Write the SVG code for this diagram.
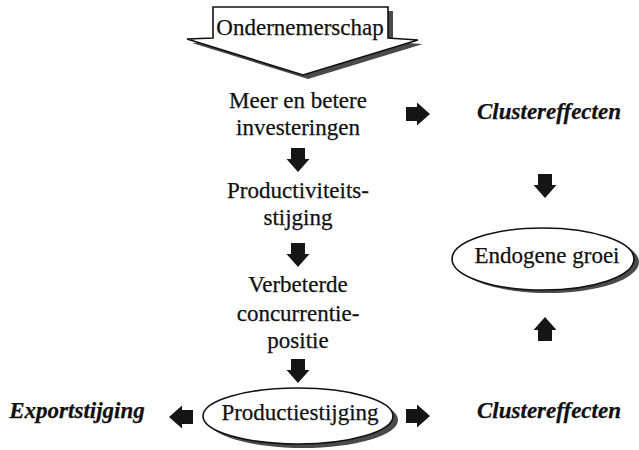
<svg xmlns="http://www.w3.org/2000/svg" width="639" height="450" viewBox="0 0 639 450">
  <style>
    .t { font-family: "Liberation Serif", "Times New Roman", serif; font-size: 23px; fill: #111; stroke: #111; stroke-width: 0.25; text-anchor: middle; }
    .bi { font-weight: bold; font-style: italic; }
    .outline { fill: #fff; stroke: #111; stroke-width: 1.6; }
    .shadow { fill: #4a4a4a; }
    .arrow { fill: #151515; }
  </style>
  <defs>
    <!-- block arrow pointing right, centred on the origin -->
    <path id="blk" d="M-12,-7 H-1 V-11.5 L12,0 L-1,11.5 V7 H-12 Z"/>
  </defs>
  <rect width="639" height="450" fill="#fff"/>

  <!-- banner with downward point -->
  <g id="ondernemerschap">
    <polygon class="shadow" points="218,11 393,11 393,42 423,44 308,79 192,43 218,42"/>
    <polygon class="outline" points="213,7 388,7 388,38 418,40 303,75 187,39 213,38"/>
    <text class="t" x="300" y="35">Ondernemerschap</text>
  </g>

  <g id="investeringen">
    <text class="t" x="298" y="108">Meer en betere</text>
    <text class="t" x="298" y="135">investeringen</text>
  </g>

  <g id="clustereffecten-top">
    <text class="t bi" x="549" y="119">Clustereffecten</text>
  </g>

  <g id="productiviteit">
    <text class="t" x="298" y="198">Productiviteits-</text>
    <text class="t" x="298" y="225">stijging</text>
  </g>

  <g id="concurrentie">
    <text class="t" x="298" y="292">Verbeterde</text>
    <text class="t" x="298" y="321">concurrentie-</text>
    <text class="t" x="298" y="348">positie</text>
  </g>

  <g id="endogene-groei">
    <ellipse class="shadow" cx="548" cy="262" rx="91" ry="31"/>
    <ellipse class="outline" cx="543" cy="259" rx="91" ry="31"/>
    <text class="t" x="547" y="263">Endogene groei</text>
  </g>

  <g id="productiestijging">
    <ellipse class="shadow" cx="303" cy="420" rx="95" ry="28"/>
    <ellipse class="outline" cx="298" cy="416" rx="95" ry="28"/>
    <text class="t" x="300" y="420">Productiestijging</text>
  </g>

  <g id="exportstijging">
    <text class="t bi" x="77" y="418">Exportstijging</text>
  </g>

  <g id="clustereffecten-bottom">
    <text class="t bi" x="549" y="418">Clustereffecten</text>
  </g>

  <!-- block arrows between the items -->
  <g id="connectors" class="arrow">
    <use href="#blk" transform="translate(418,114)"/>
    <use href="#blk" transform="translate(298,160) rotate(90)"/>
    <use href="#blk" transform="translate(298,255) rotate(90)"/>
    <use href="#blk" transform="translate(298,371) rotate(90)"/>
    <use href="#blk" transform="translate(181,417) rotate(180)"/>
    <use href="#blk" transform="translate(418,416)"/>
    <use href="#blk" transform="translate(545,186) rotate(90)"/>
    <use href="#blk" transform="translate(545,329) rotate(-90)"/>
  </g>
</svg>
